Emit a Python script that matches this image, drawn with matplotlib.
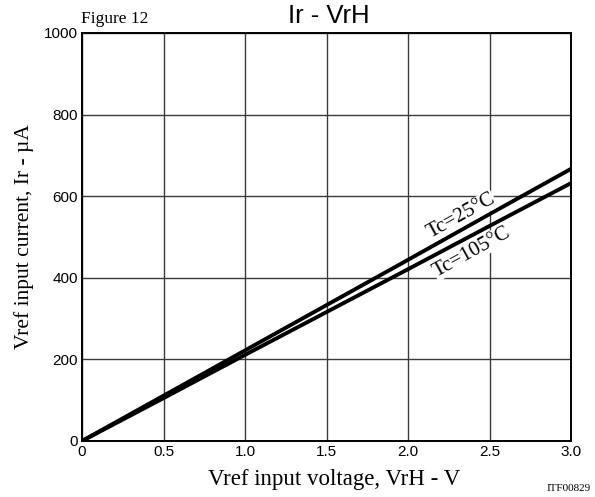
import numpy as np
import matplotlib.pyplot as plt

# Vref input voltage (V) and current (uA)
vrh = [0.0, 0.5, 1.0, 1.5, 2.0, 2.5, 3.0]
ir_25 = [0, 111, 222, 333, 444, 556, 667]
ir_105 = [0, 105, 211, 316, 421, 527, 632]

xticks = [0, 0.5, 1.0, 1.5, 2.0, 2.5, 3.0]
xticklabels = ["0", "0.5", "1.0", "1.5", "2.0", "2.5", "3.0"]
yticks = [0, 200, 400, 600, 800, 1000]

serif = "Liberation Serif"
sans = "Liberation Sans"

fig = plt.figure(figsize=(5.95, 4.97), dpi=100)
ax = fig.add_axes([0.1378, 0.1127, 0.822, 0.821])

ax.plot(vrh, ir_25, color="black", lw=2.8, solid_capstyle="butt", zorder=3)
ax.plot(vrh, ir_105, color="black", lw=2.8, solid_capstyle="butt", zorder=3)

ax.set_xlim(0, 3.0)
ax.set_ylim(0, 1000)
ax.set_xticks(xticks)
ax.set_xticklabels(xticklabels)
ax.set_yticks(yticks)
ax.tick_params(length=0, pad=3, labelsize=11)
for lab in ax.get_xticklabels() + ax.get_yticklabels():
    lab.set_family(sans)
ax.grid(True, color="#3a3a3a", lw=1.0)
for s in ax.spines.values():
    s.set_linewidth(1.4)

ax.set_xlabel("Vref input voltage, VrH - V", family=serif, fontsize=16.5, labelpad=4)
ax.xaxis.set_label_coords(0.515, -0.068)
ax.set_ylabel("Vref input current, Ir - µA", family=serif, fontsize=15.5, labelpad=7)

ax.text(2.325, 551, "Tc=25°C", family=serif, fontsize=15, rotation=29,
        ha="center", va="center", zorder=4,
        bbox=dict(facecolor="white", edgecolor="none", pad=0.3))
ax.text(2.39, 463, "Tc=105°C", family=serif, fontsize=15, rotation=29,
        ha="center", va="center", zorder=4,
        bbox=dict(facecolor="white", edgecolor="none", pad=0.3))

fig.text(0.552, 0.968, "Ir - VrH", family=sans, fontsize=18.5, ha="center", va="center")
fig.text(0.192, 0.962, "Figure 12", family=serif, fontsize=12.5, ha="center", va="center")
fig.text(0.955, 0.018, "ITF00829", family=serif, fontsize=8, ha="center", va="center")

fig.savefig("out.png", dpi=100)
